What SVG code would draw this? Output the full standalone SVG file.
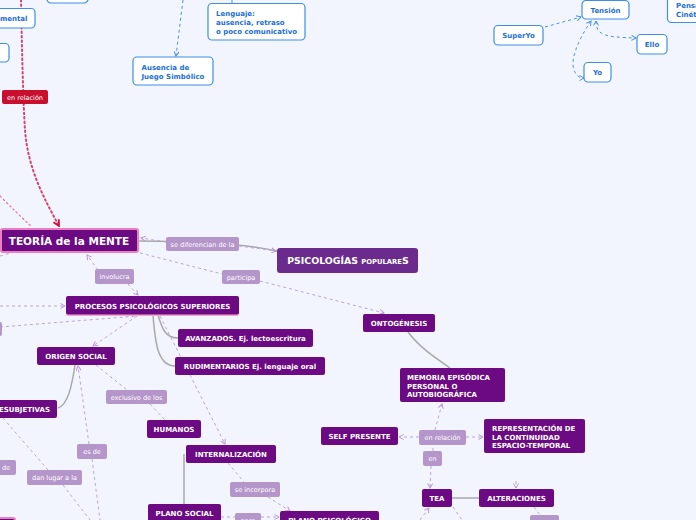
<svg xmlns="http://www.w3.org/2000/svg" width="696" height="520" viewBox="0 0 696 520">
<defs>
<style>
.n rect{fill:#6c0a83;}
.n text{font-family:"DejaVu Sans",sans-serif;font-weight:bold;font-size:7px;fill:#fff;text-anchor:middle;}
.n text.l{text-anchor:start;}
.lb rect{fill:#b596ca;}
.lb text{font-family:"DejaVu Sans",sans-serif;font-size:6.5px;fill:#fff;text-anchor:middle;}
.b rect{fill:#fff;stroke:#3d8fe6;stroke-width:1.2;}
.b text{font-family:"DejaVu Sans",sans-serif;font-weight:bold;font-size:7px;fill:#1c6fd4;text-anchor:middle;}
.b text.l{text-anchor:start;}
.dp{fill:none;stroke:#bca4d8;stroke-width:1;stroke-dasharray:3,3;}
.gs{fill:none;stroke:#a9a9a9;stroke-width:1.5;}
.db{fill:none;stroke:#4a92e2;stroke-width:1;stroke-dasharray:3,3;}
</style>
<marker id="ap" viewBox="0 0 6 6" refX="5" refY="3" markerWidth="6" markerHeight="6" markerUnits="userSpaceOnUse" orient="auto-start-reverse"><path d="M0.5,0.5 L5,3 L0.5,5.5" fill="none" stroke="#b89ad0" stroke-width="1"/></marker>
<marker id="ab" viewBox="0 0 6 6" refX="5" refY="3" markerWidth="6" markerHeight="6" markerUnits="userSpaceOnUse" orient="auto-start-reverse"><path d="M0.5,0.5 L5,3 L0.5,5.5" fill="none" stroke="#4a92e2" stroke-width="1"/></marker>
<marker id="ar" viewBox="0 0 8 8" refX="7" refY="4" markerWidth="8" markerHeight="8" markerUnits="userSpaceOnUse" orient="auto"><path d="M1,1 L7,4 L1,7" fill="none" stroke="#d0103a" stroke-width="1.8"/></marker>
</defs>
<rect x="0" y="0" width="696" height="520" fill="#f2f5fe"/>
<g id="connectors">
<path d="M21,0 C22,50 23,100 25,130 C28,170 45,200 59,226" fill="none" stroke="#d6446e" stroke-width="2" stroke-dasharray="1.5,3" stroke-linecap="round" marker-end="url(#ar)"/>
<path d="M0,196 C12,208 22,218 32,227" fill="none" stroke="#e0709a" stroke-width="1.2" stroke-dasharray="1.5,3" stroke-linecap="round"/>
<path class="dp" d="M0,256 L14,252"/>
<path class="gs" d="M139,241 C180,241 240,243 277,251"/>
<path class="dp" d="M166,242 L141,238" marker-end="url(#ap)"/>
<path class="dp" d="M239,246 L276,251" marker-end="url(#ap)"/>
<path class="dp" d="M140,253 L222,274"/>
<path class="dp" d="M260,281 L384,313" marker-end="url(#ap)"/>
<path class="dp" d="M98,270 L87,255" marker-end="url(#ap)"/>
<path class="dp" d="M128,284 L138,295" marker-end="url(#ap)"/>
<path class="dp" d="M0,306 L65,306" marker-end="url(#ap)"/>
<path class="dp" d="M0,327 L138,316"/>
<path class="dp" d="M137,316 L93,346" marker-end="url(#ap)"/>
<path class="gs" d="M153,315 C155,340 157,366 175,366"/>
<path class="gs" d="M158,315 C162,328 165,338 178,338"/>
<path class="dp" d="M160,316 L225,444" marker-end="url(#ap)"/>
<path class="gs" d="M75,365 C72,385 68,405 58,408"/>
<path class="dp" d="M96,365 L127,390"/>
<path class="dp" d="M150,404 L165,420"/>
<path class="dp" d="M89,444 L78,366" marker-end="url(#ap)"/>
<path class="dp" d="M92,459 L100,520"/>
<path class="dp" d="M3,418 L48,470"/>
<path class="dp" d="M63,485 L90,520"/>
<path class="gs" d="M184,454 L184,504"/>
<path class="dp" d="M228,463 L244,482"/>
<path class="dp" d="M268,497 L290,511" marker-end="url(#ap)"/>
<path class="dp" d="M221,517 L235,517"/>
<path class="dp" d="M261,517 L279,517" marker-end="url(#ap)"/>
<path class="gs" d="M408,332 C420,348 436,358 450,368"/>
<path class="dp" d="M435,430 L442,404" marker-end="url(#ap)"/>
<path class="dp" d="M419,437 L399,437" marker-end="url(#ap)"/>
<path class="dp" d="M466,437 L483,437" marker-end="url(#ap)"/>
<path class="dp" d="M433,451 L433,445"/>
<path class="dp" d="M431,466 L430,488" marker-end="url(#ap)"/>
<path class="gs" d="M452,498 L479,498"/>
<path class="dp" d="M516,481 L516,488" marker-end="url(#ap)"/>
<path class="dp" d="M534,507 L540,515"/>
<path class="dp" d="M420,520 L429,508" marker-end="url(#ap)"/>
<path class="dp" d="M453,507 L462,520"/>
<path class="db" d="M545,27 L581,17" marker-end="url(#ab)"/>
<path class="db" d="M596,21 C596,36 606,37 636,38" marker-start="url(#ab)" marker-end="url(#ab)"/>
<path class="db" d="M591,21 C578,40 570,60 574,70 C576,76 580,78 584,78" marker-start="url(#ab)" marker-end="url(#ab)"/>
<path class="db" d="M183,0 L176,56" marker-end="url(#ab)"/>
<path class="db" d="M232,0 L232,3"/>
</g>
<g id="n-teoria" class="n"><rect x="1" y="229" width="137" height="23" rx="2" stroke="#e87fc0" stroke-width="2"/><text x="69" y="245" style="font-size:10.5px">TEORÍA de la MENTE</text></g>
<g id="n-psicologias" class="n"><rect x="277" y="248" width="141" height="25" rx="3" style="fill:#6b2b8d"/><text x="348" y="264"><tspan style="font-size:9.4px">PSICOLOGÍAS </tspan><tspan style="font-size:6.8px">POPULARE</tspan><tspan style="font-size:9.4px">S</tspan></text></g>
<g id="n-procesos" class="n"><rect x="66" y="297" width="173" height="19" rx="2" style="fill:#f4a6cf"/><rect x="66" y="296" width="173" height="18.5" rx="2"/><text x="152.5" y="308.5">PROCESOS PSICOLÓGICOS SUPERIORES</text></g>
<g id="n-ontogenesis" class="n"><rect x="363" y="314" width="72" height="18" rx="2"/><text x="399" y="325.5">ONTOGÉNESIS</text></g>
<g id="n-avanzados" class="n"><rect x="178" y="329" width="135" height="18" rx="2"/><text x="245.5" y="340.5">AVANZADOS. Ej. lectoescritura</text></g>
<g id="n-rudimentarios" class="n"><rect x="175" y="357" width="150" height="18" rx="2"/><text x="250" y="368.5">RUDIMENTARIOS Ej. lenguaje oral</text></g>
<g id="n-origen" class="n"><rect x="37" y="347" width="78" height="18" rx="2"/><text x="76" y="358.5">ORIGEN SOCIAL</text></g>
<g id="n-esubjetivas" class="n"><rect x="-40" y="400" width="97" height="18" rx="2"/><text x="50" y="411.5" style="text-anchor:end">ESUBJETIVAS</text></g>
<g id="n-humanos" class="n"><rect x="147" y="420" width="54" height="18" rx="2"/><text x="174" y="431.5">HUMANOS</text></g>
<g id="n-internalizacion" class="n"><rect x="186" y="445" width="90" height="18" rx="2"/><text x="231" y="456.5">INTERNALIZACIÓN</text></g>
<g id="n-planosocial" class="n"><rect x="148" y="504" width="73" height="20" rx="2"/><text x="184.5" y="516">PLANO SOCIAL</text></g>
<g id="n-planopsico" class="n"><rect x="280" y="511" width="99" height="20" rx="2"/><text x="329.5" y="523">PLANO PSICOLÓGICO</text></g>
<g id="n-memoria" class="n"><rect x="400" y="368" width="105" height="34" rx="2"/><text class="l" x="407" y="380">MEMORIA EPISÓDICA</text><text class="l" x="407" y="388.5">PERSONAL O</text><text class="l" x="407" y="397">AUTOBIOGRÁFICA</text></g>
<g id="n-self" class="n"><rect x="321" y="427" width="77" height="18" rx="2"/><text x="359.5" y="438.5">SELF PRESENTE</text></g>
<g id="n-representacion" class="n"><rect x="484" y="419" width="101" height="34" rx="2"/><text class="l" x="492" y="431">REPRESENTACIÓN DE</text><text class="l" x="492" y="439.5">LA CONTINUIDAD</text><text class="l" x="492" y="448">ESPACIO-TEMPORAL</text></g>
<g id="n-tea" class="n"><rect x="422" y="489" width="30" height="18" rx="2"/><text x="437" y="500.5">TEA</text></g>
<g id="n-alteraciones" class="n"><rect x="479" y="489" width="75" height="18" rx="2"/><text x="516.5" y="500.5">ALTERACIONES</text></g>
<g id="n-pinkcut" class="n"><rect x="-20" y="518" width="35" height="10" rx="2" stroke="#e87fc0" stroke-width="2"/></g>
<g id="l-diferencian" class="lb"><rect x="166" y="237" width="73" height="14" rx="2"/><text x="202.5" y="246.5">se diferencian de la</text></g>
<g id="l-participa" class="lb"><rect x="222" y="270" width="38" height="14" rx="2"/><text x="241" y="279.5">participa</text></g>
<g id="l-involucra" class="lb"><rect x="95" y="269" width="39" height="15" rx="2"/><text x="114.5" y="279">involucra</text></g>
<g id="l-leftcut" class="lb"><rect x="-30" y="322" width="32" height="14" rx="2"/></g>
<g id="l-exclusivo" class="lb"><rect x="106" y="390" width="61" height="14" rx="2"/><text x="136.5" y="399.5">exclusivo de los</text></g>
<g id="l-esde" class="lb"><rect x="77" y="444" width="30" height="15" rx="2"/><text x="92" y="454">es de</text></g>
<g id="l-danlugar" class="lb"><rect x="27" y="470" width="55" height="15" rx="2"/><text x="54.5" y="480">dan lugar a la</text></g>
<g id="l-de" class="lb"><rect x="-10" y="460" width="26" height="15" rx="2"/><text x="6" y="470">de</text></g>
<g id="l-seincorpora" class="lb"><rect x="230" y="482" width="50" height="15" rx="2"/><text x="255" y="492">se incorpora</text></g>
<g id="l-para" class="lb"><rect x="235" y="513" width="26" height="12" rx="2"/><text x="248" y="523">para</text></g>
<g id="l-enrelacion2" class="lb"><rect x="419" y="430" width="47" height="15" rx="2"/><text x="442.5" y="440">en relación</text></g>
<g id="l-en" class="lb"><rect x="423" y="451" width="19" height="15" rx="2"/><text x="432.5" y="461">en</text></g>
<g id="l-alt" class="lb"><rect x="530" y="515" width="29" height="10" rx="2"/></g>
<g id="l-enrelacion-red"><rect x="2" y="90" width="46" height="14" rx="2" fill="#c8102e"/><text x="25" y="100" font-family="DejaVu Sans, sans-serif" font-size="6.5px" fill="#fff" text-anchor="middle">en relación</text></g>
<g id="b-mental" class="b"><rect x="-40" y="8.5" width="75" height="19.5" rx="4"/><text x="27.5" y="20.5" style="text-anchor:end">mental</text></g>
<g id="b-leftcut" class="b"><rect x="-40" y="43.5" width="49" height="18.5" rx="4"/></g>
<g id="b-topcut" class="b"><rect x="47" y="-10" width="41" height="13" rx="4"/></g>
<g id="b-ausencia" class="b"><rect x="133" y="57" width="80" height="28" rx="4"/><text class="l" x="141.5" y="70">Ausencia de</text><text class="l" x="141.5" y="78.5">Juego Simbólico</text></g>
<g id="b-lenguaje" class="b"><rect x="208" y="3.5" width="97" height="36.5" rx="4"/><text class="l" x="216" y="16">Lenguaje:</text><text class="l" x="216" y="25">ausencia, retraso</text><text class="l" x="216" y="33.5">o poco comunicativo</text></g>
<g id="b-tension" class="b"><rect x="582" y="0.5" width="47" height="18.5" rx="4"/><text x="605.5" y="13">Tensión</text></g>
<g id="b-superyo" class="b"><rect x="494" y="25.5" width="49" height="19.5" rx="4"/><text x="518.5" y="37.5">SuperYo</text></g>
<g id="b-ello" class="b"><rect x="637" y="34.5" width="30" height="19.5" rx="4"/><text x="652" y="46.5">Ello</text></g>
<g id="b-yo" class="b"><rect x="584" y="62.5" width="27" height="19.5" rx="4"/><text x="597.5" y="74.5">Yo</text></g>
<g id="b-pensa" class="b"><rect x="667.5" y="-5" width="40" height="27.5" rx="4"/><text class="l" x="676" y="8">Pensa</text><text class="l" x="676" y="16.5">Cinét</text></g>
</svg>
